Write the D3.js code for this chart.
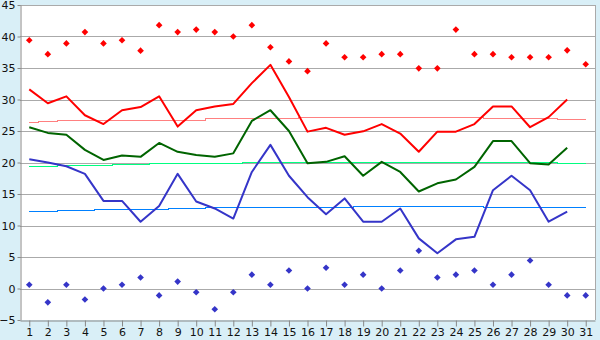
<!DOCTYPE html>
<html>
<head>
<meta charset="utf-8" />
<style>
  body { margin: 0; background: #d9eff7; }
  svg { display: block; }
  .tick text { font-family: "DejaVu Sans", Verdana, sans-serif; font-size: 11px; fill: #111; }
</style>
</head>
<body>
<div id="chart"></div>
<script src="https://cdn.jsdelivr.net/npm/d3@7"></script>
<script>
var days = d3.range(1, 32);
var yTicks = [-5, 0, 5, 10, 15, 20, 25, 30, 35, 40, 45];

// daily max / mean / min (day 31 missing)
var maxT = [31.6, 29.4, 30.5, 27.5, 26.1, 28.3, 28.8, 30.5, 25.7, 28.3,
            28.9, 29.3, 32.6, 35.5, 30.4, 24.9, 25.5, 24.4, 24.95, 26.1,
            24.6, 21.7, 24.9, 24.9, 26.1, 28.9, 28.9, 25.6, 27.2, 30.0];
var meanT = [25.6, 24.7, 24.4, 22.0, 20.4, 21.1, 20.9, 23.1, 21.7, 21.2,
             20.9, 21.45, 26.6, 28.3, 25.0, 19.9, 20.1, 21.0, 17.9, 20.1,
             18.5, 15.4, 16.7, 17.3, 19.3, 23.4, 23.4, 19.9, 19.7, 22.35];
var minT = [20.5, 20.0, 19.4, 18.2, 13.9, 13.9, 10.6, 13.1, 18.2, 13.8,
            12.7, 11.1, 18.5, 22.8, 17.9, 14.5, 11.8, 14.3, 10.6, 10.6,
            12.7, 7.96, 5.6, 7.8, 8.2, 15.6, 17.9, 15.6, 10.6, 12.2];

// record highs / lows
var recHigh = [39.4, 37.2, 38.9, 40.7, 38.9, 39.4, 37.75, 41.8, 40.7, 41.1,
               40.7, 40.0, 41.8, 38.3, 36.05, 34.5, 38.9, 36.7, 36.7, 37.2,
               37.2, 34.95, 34.95, 41.1, 37.2, 37.2, 36.7, 36.7, 36.7, 37.8, 35.6];
var recLow = [0.6, -2.2, 0.6, -1.75, 0, 0.6, 1.75, -1.1, 1.1, -0.6,
              -3.3, -0.6, 2.2, 0.6, 2.85, 0, 3.3, 0.6, 2.2, 0,
              2.85, 6.0, 1.75, 2.2, 2.85, 0.6, 2.2, 4.45, 0.6, -1.1, -1.1];

// normals
var normMax = [26.4, 26.55, 26.75, 26.75, 26.75, 26.75, 26.75, 26.75, 26.75, 26.75,
               27.05, 27.05, 27.05, 27.05, 27.05, 27.2, 27.2, 27.2, 27.2, 27.2,
               27.2, 27.2, 27.2, 27.2, 27.2, 27.05, 27.05, 27.05, 27.05, 26.85, 26.85];
var normMean = [19.43, 19.43, 19.54, 19.54, 19.54, 19.7, 19.7, 19.86, 19.86, 19.86,
                19.86, 19.86, 20.08, 20.08, 20.08, 20.08, 20.08, 20.08, 20.08, 20.08,
                20.08, 20.08, 20.08, 20.08, 20.08, 20.06, 20.06, 20.06, 20.06, 19.86, 19.86];
var normMin = [12.23, 12.23, 12.39, 12.39, 12.55, 12.55, 12.55, 12.55, 12.71, 12.71,
               12.92, 12.92, 12.92, 12.92, 12.92, 12.92, 12.92, 12.92, 13.03, 13.03,
               13.03, 13.03, 13.03, 13.03, 13.03, 12.95, 12.95, 12.95, 12.95, 12.95, 12.95];

var width = 600, height = 340;
var plotL = 20, plotR = 595, plotT = 5, plotB = 320;

var svg = d3.select('#chart').append('svg')
  .attr('width', width)
  .attr('height', height);

var x = d3.scalePoint().domain(days).range([plotL, plotR]).padding(0.5);
var y = d3.scaleLinear().domain([-5, 45]).range([plotB, plotT]);

svg.append('rect')
  .attr('x', plotL).attr('y', plotT)
  .attr('width', plotR - plotL).attr('height', plotB - plotT)
  .attr('fill', '#fff');

// grid
svg.append('g').selectAll('line')
  .data(yTicks.filter(function(d) { return d > -5; }))
  .enter().append('line')
  .attr('x1', plotL).attr('x2', plotR)
  .attr('y1', function(d) { return Math.round(y(d)) + 0.5; })
  .attr('y2', function(d) { return Math.round(y(d)) + 0.5; })
  .attr('stroke', '#aaaaaa');

svg.append('line')
  .attr('x1', plotR + 0.5).attr('x2', plotR + 0.5)
  .attr('y1', plotT).attr('y2', plotB)
  .attr('stroke', '#aaaaaa');

// axes
var yAxis = d3.axisLeft(y).tickValues(yTicks).tickSize(3).tickSizeOuter(0).tickPadding(2);
svg.append('g')
  .attr('transform', 'translate(' + (plotL + 0.5) + ',0)')
  .call(yAxis)
  .call(function(g) { g.selectAll('path, line').attr('stroke', '#888'); });

var xAxis = d3.axisBottom(x).tickSize(6).tickSizeOuter(0).tickPadding(2);
svg.append('g')
  .attr('transform', 'translate(0,' + (Math.round(plotB) + 0.5) + ')')
  .call(xAxis)
  .call(function(g) { g.selectAll('path, line').attr('stroke', '#888'); });

// normals as step lines
var stepLine = d3.line()
  .x(function(d, i) { return x(days[i]); })
  .y(function(d) { return Math.round(y(d)) + 0.5; })
  .curve(d3.curveStep);

[[normMax, '#ff8080'], [normMean, '#00ff80'], [normMin, '#0080ff']].forEach(function(s) {
  svg.append('path')
    .attr('d', stepLine(s[0]))
    .attr('fill', 'none')
    .attr('stroke', s[1])
    .attr('stroke-width', 1)
    .attr('shape-rendering', 'crispEdges');
});

// daily lines
var line = d3.line()
  .x(function(d, i) { return x(days[i]); })
  .y(function(d) { return y(d); });

[[minT, '#3535c8'], [meanT, '#006400'], [maxT, '#ff0000']].forEach(function(s) {
  svg.append('path')
    .attr('d', line(s[0]))
    .attr('fill', 'none')
    .attr('stroke', s[1])
    .attr('stroke-width', 2)
    .attr('stroke-linejoin', 'round');
});

// records: small square diamonds
var marker = d3.symbol().type(d3.symbolSquare).size(22);
[[recHigh, '#ff0000'], [recLow, '#3535c8']].forEach(function(s) {
  svg.append('g').selectAll('path')
    .data(s[0])
    .enter().append('path')
    .attr('d', marker)
    .attr('transform', function(d, i) {
      return 'translate(' + x(days[i]) + ',' + y(d) + ') rotate(45)';
    })
    .attr('fill', s[1]);
});
</script>
</body>
</html>
